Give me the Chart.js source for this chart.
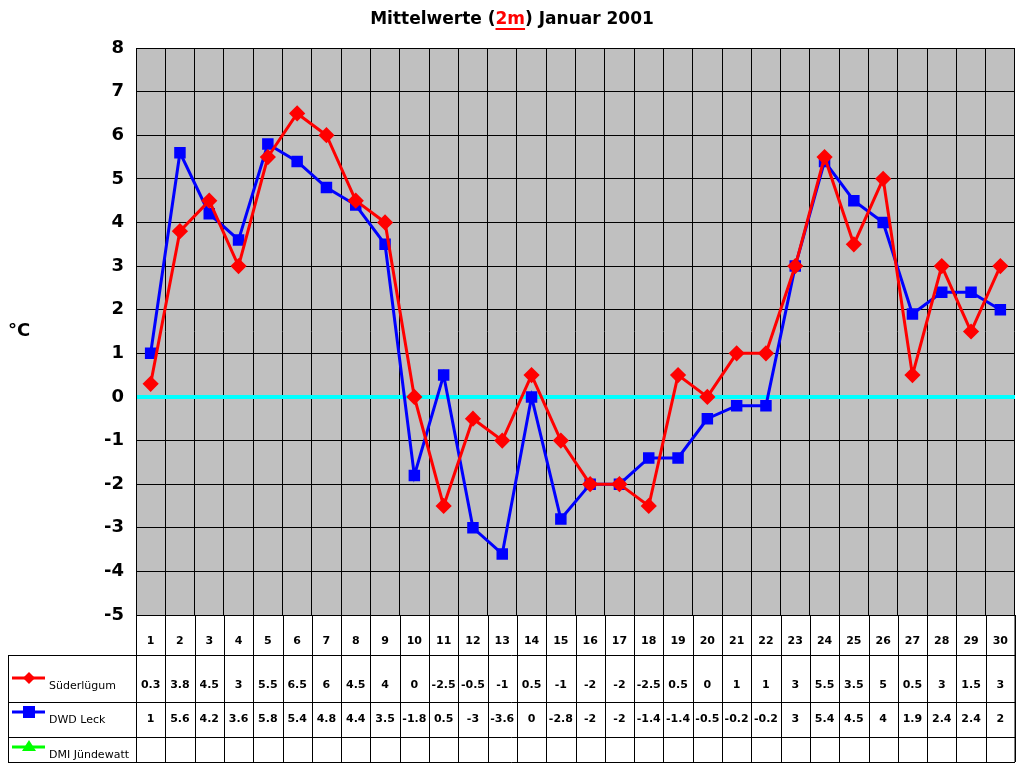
<!DOCTYPE html>
<html>
<head>
<meta charset="utf-8">
<script src="https://cdn.jsdelivr.net/npm/chart.js@4"></script>
<style>
  html, body { margin: 0; padding: 0; background: #fff; }
  #wrap { width: 1024px; height: 768px; }
</style>
</head>
<body>
<div id="wrap"><canvas id="c" width="1024" height="768"></canvas></div>
<script>
const days = ['1','2','3','4','5','6','7','8','9','10','11','12','13','14','15','16','17','18','19','20','21','22','23','24','25','26','27','28','29','30'];
const suederluegum = [0.3, 3.8, 4.5, 3, 5.5, 6.5, 6, 4.5, 4, 0, -2.5, -0.5, -1, 0.5, -1, -2, -2, -2.5, 0.5, 0, 1, 1, 3, 5.5, 3.5, 5, 0.5, 3, 1.5, 3];
const dwdLeck = [1, 5.6, 4.2, 3.6, 5.8, 5.4, 4.8, 4.4, 3.5, -1.8, 0.5, -3, -3.6, 0, -2.8, -2, -2, -1.4, -1.4, -0.5, -0.2, -0.2, 3, 5.4, 4.5, 4, 1.9, 2.4, 2.4, 2];
const dmiJuendewatt = days.map(() => null);
const yTicks = [8, 7, 6, 5, 4, 3, 2, 1, 0, -1, -2, -3, -4, -5];

const seriesRows = [
  { label: 'Süderlügum', data: suederluegum, color: '#ff0000', marker: 'rectRot' },
  { label: 'DWD Leck', data: dwdLeck, color: '#0000ff', marker: 'rect' },
  { label: 'DMI Jündewatt', data: dmiJuendewatt, color: '#00ff00', marker: 'triangle' }
];

const font = 'Tahoma, "DejaVu Sans", sans-serif';

const frame = {
  id: 'frame',
  beforeDraw(chart) {
    const { ctx, chartArea: a } = chart;
    ctx.save();
    ctx.fillStyle = '#c0c0c0';
    ctx.fillRect(a.left, a.top, a.right - a.left, a.bottom - a.top);
    ctx.restore();
  },
  afterDraw(chart) {
    const { ctx, chartArea: a, scales: { x } } = chart;
    ctx.save();
    // title
    ctx.textAlign = 'center';
    ctx.textBaseline = 'middle';
    ctx.font = 'bold 17px ' + font;
    const parts = [['Mittelwerte (', '#000'], ['2m', '#ff0000'], [') Januar 2001', '#000']];
    let total = parts.reduce((s, p) => s + ctx.measureText(p[0]).width, 0);
    let tx = 512 - total / 2;
    ctx.textAlign = 'left';
    parts.forEach(([t, c]) => {
      ctx.fillStyle = c;
      ctx.fillText(t, tx, 20);
      const w = ctx.measureText(t).width;
      if (t === '2m') { ctx.fillRect(tx, 28, w, 2); }
      tx += w;
    });
    // y title
    ctx.fillStyle = '#000';
    ctx.font = 'bold 18px ' + font;
    ctx.fillText('°C', 8, 331);
    // table
    const w = (x.getPixelForValue(1) - x.getPixelForValue(0));
    const rows = [a.bottom, 655, 702, 737, 762];
    ctx.strokeStyle = '#000';
    ctx.lineWidth = 1;
    ctx.beginPath();
    for (let i = 0; i <= days.length; i++) {
      const px = Math.round(x.getPixelForValue(i) - w / 2) + 0.5;
      ctx.moveTo(px, a.bottom); ctx.lineTo(px, rows[4]);
    }
    ctx.moveTo(a.right, a.bottom); ctx.lineTo(a.right, rows[4]);
    for (let r = 1; r < rows.length; r++) {
      ctx.moveTo(8, rows[r] + 0.5); ctx.lineTo(a.right, rows[r] + 0.5);
    }
    ctx.moveTo(8.5, rows[1]); ctx.lineTo(8.5, rows[4]);
    ctx.stroke();
    ctx.font = 'bold 11px ' + font;
    ctx.textAlign = 'center';
    days.forEach((d, i) => {
      const px = x.getPixelForValue(i);
      ctx.fillText(d, px, 641);
      seriesRows.forEach((s, r) => {
        const v = s.data[i];
        if (v !== null) ctx.fillText(String(v), px, [685, 719, 754][r]);
      });
    });
    // legend keys
    seriesRows.forEach((s, r) => {
      const ly = [678, 712, 747][r];
      ctx.strokeStyle = s.color;
      ctx.fillStyle = s.color;
      ctx.lineWidth = 3;
      ctx.beginPath(); ctx.moveTo(12, ly); ctx.lineTo(45, ly); ctx.stroke();
      ctx.beginPath();
      if (s.marker === 'rectRot') { ctx.moveTo(29, ly - 6); ctx.lineTo(35, ly); ctx.lineTo(29, ly + 6); ctx.lineTo(23, ly); }
      else if (s.marker === 'rect') { ctx.rect(23, ly - 6, 12, 12); }
      else { ctx.moveTo(29, ly - 7); ctx.lineTo(36, ly + 4); ctx.lineTo(22, ly + 4); }
      ctx.fill();
      ctx.fillStyle = '#000';
      ctx.font = '11px ' + font;
      ctx.textAlign = 'left';
      ctx.fillText(s.label, 49, ly + 8);
    });
    ctx.restore();
  }
};

new Chart(document.getElementById('c'), {
  type: 'line',
  data: {
    labels: days,
    datasets: seriesRows.map(s => ({
      label: s.label,
      data: s.data,
      borderColor: s.color,
      backgroundColor: s.color,
      borderWidth: 3,
      pointStyle: s.marker,
      pointRadius: s.marker === 'rect' ? 6 : 6,
      pointHoverRadius: 6,
      tension: 0
    }))
  },
  options: {
    responsive: false,
    animation: false,
    layout: { padding: { top: 48, right: 5, bottom: 153, left: 0 } },
    plugins: { legend: { display: false }, title: { display: false }, tooltip: { enabled: false } },
    scales: {
      x: {
        offset: true,
        ticks: { display: false },
        grid: { offset: true, color: '#000', lineWidth: 1, drawTicks: false },
        border: { color: '#000' }
      },
      y: {
        min: -5, max: 8,
        afterFit: s => { s.width = 136; },
        afterBuildTicks: s => { s.ticks = yTicks.map(v => ({ value: v })); },
        ticks: { color: '#000', font: { family: font, size: 18, weight: 'bold' }, padding: 12 },
        grid: {
          color: c => c.tick && c.tick.value === 0 ? '#00ffff' : '#000',
          lineWidth: c => c.tick && c.tick.value === 0 ? 4 : 1,
          drawTicks: false
        },
        border: { color: '#000' }
      }
    }
  },
  plugins: [frame]
});
</script>
</body>
</html>
